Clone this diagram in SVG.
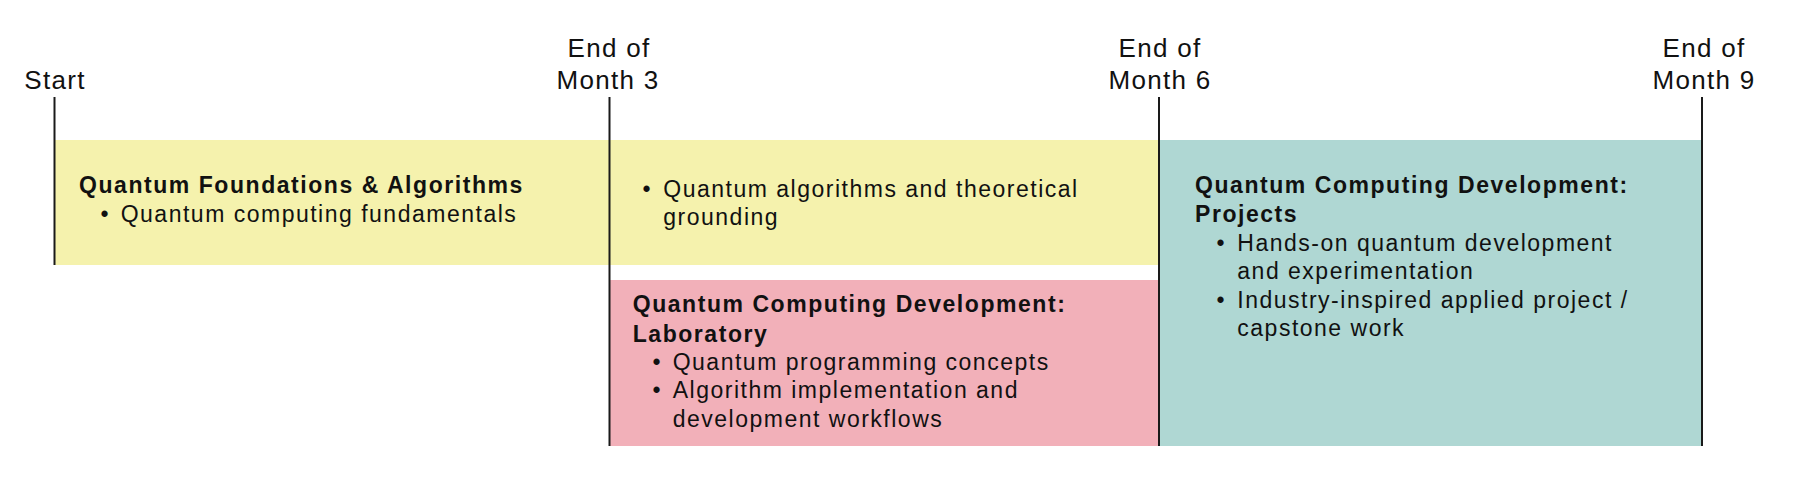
<svg xmlns="http://www.w3.org/2000/svg" width="1799" height="502" viewBox="0 0 1799 502">
  <style>
    text { font-family: "Liberation Sans", Arial, Helvetica, sans-serif; fill: #111; }
    .lbl { font-size: 26px; letter-spacing: 1.3px; text-anchor: middle; }
    .ttl { font-size: 23px; font-weight: bold; letter-spacing: 1.55px; }
    .itm { font-size: 23px; letter-spacing: 1.5px; }
    .bul { font-size: 23px; text-anchor: middle; }
    .tick { stroke: #1a1a1a; stroke-width: 2; fill: none; }
    .yellow { fill: #F5F2AD; }
    .pink { fill: #F2B0B9; }
    .teal { fill: #AFD7D3; }
  </style>
  <rect width="1799" height="502" fill="#ffffff"/>

  <g id="foundations">
    <rect class="yellow" x="55" y="140" width="555" height="125"/>
    <text class="ttl" x="79" y="193">Quantum Foundations &amp; Algorithms</text>
    <text class="bul" x="104.5" y="221.7">•</text>
    <text class="itm" x="120.7" y="221.7">Quantum computing fundamentals</text>
  </g>

  <g id="foundations-continued">
    <rect class="yellow" x="610" y="140" width="549" height="125"/>
    <text class="bul" x="646.5" y="196.7">•</text>
    <text class="itm" x="663.3" y="196.7">Quantum algorithms and theoretical</text>
    <text class="itm" x="663.3" y="225.2">grounding</text>
  </g>

  <g id="laboratory">
    <rect class="pink" x="610" y="280" width="549" height="166"/>
    <text class="ttl" x="632.7" y="312.3">Quantum Computing Development:</text>
    <text class="ttl" x="632.7" y="341.7">Laboratory</text>
    <text class="bul" x="656.5" y="370">•</text>
    <text class="itm" x="672.7" y="370">Quantum programming concepts</text>
    <text class="bul" x="656.5" y="398.3">•</text>
    <text class="itm" x="672.7" y="398.3">Algorithm implementation and</text>
    <text class="itm" x="672.7" y="426.7">development workflows</text>
  </g>

  <g id="projects">
    <rect class="teal" x="1159" y="140" width="542" height="306"/>
    <text class="ttl" x="1195" y="193.3">Quantum Computing Development:</text>
    <text class="ttl" x="1195" y="221.7">Projects</text>
    <text class="bul" x="1220.5" y="250.7">•</text>
    <text class="itm" x="1237.3" y="250.7">Hands-on quantum development</text>
    <text class="itm" x="1237.3" y="279">and experimentation</text>
    <text class="bul" x="1220.5" y="307.7">•</text>
    <text class="itm" x="1237.3" y="307.7">Industry-inspired applied project /</text>
    <text class="itm" x="1237.3" y="336">capstone work</text>
  </g>

  <g id="timeline">
    <g id="marker-start">
      <line class="tick" x1="54.5" y1="97" x2="54.5" y2="265"/>
      <text class="lbl" x="55" y="89.3">Start</text>
    </g>
    <g id="marker-month3">
      <line class="tick" x1="609.5" y1="97" x2="609.5" y2="446"/>
      <text class="lbl" x="609" y="57.3">End of</text>
      <text class="lbl" x="608" y="89.3">Month 3</text>
    </g>
    <g id="marker-month6">
      <line class="tick" x1="1159" y1="97" x2="1159" y2="446"/>
      <text class="lbl" x="1160" y="57.3">End of</text>
      <text class="lbl" x="1160" y="89.3">Month 6</text>
    </g>
    <g id="marker-month9">
      <line class="tick" x1="1702" y1="97" x2="1702" y2="446"/>
      <text class="lbl" x="1704" y="57.3">End of</text>
      <text class="lbl" x="1704" y="89.3">Month 9</text>
    </g>
  </g>
</svg>
